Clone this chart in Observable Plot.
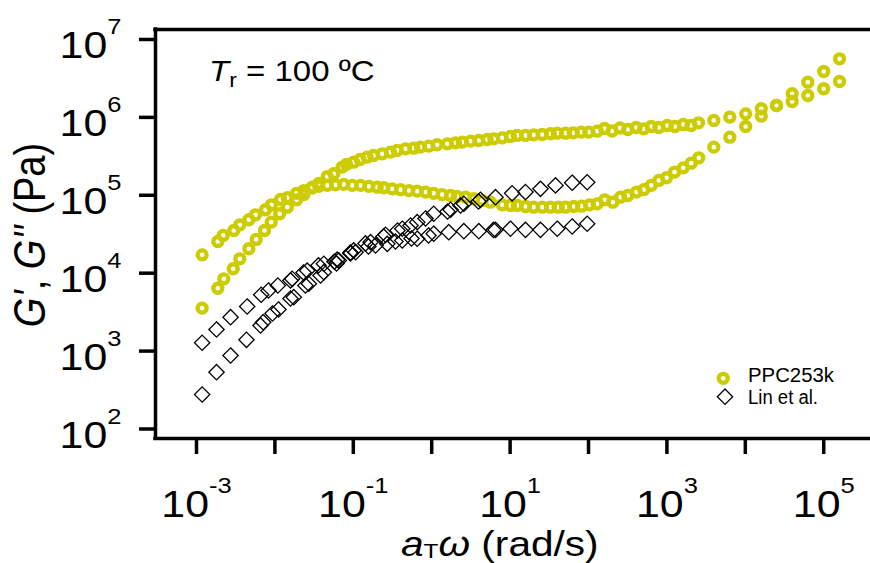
<!DOCTYPE html>
<html><head><meta charset="utf-8">
<script src="https://cdn.jsdelivr.net/npm/d3@7"></script>
<script src="https://cdn.jsdelivr.net/npm/@observablehq/plot@0.6"></script>
<style>
html,body{margin:0;padding:0;background:#fff;}
#chart{width:870px;height:563px;overflow:hidden;}
</style></head><body><div id="chart"></div>
<script>
// ---- axes ----
const xTicks = [1e-3, 1e-2, 1e-1, 1e0, 1e1, 1e2, 1e3, 1e4, 1e5];
const xTickLabels = [1e-3, 1e-1, 1e1, 1e3, 1e5];
const yTicks = [1e2, 1e3, 1e4, 1e5, 1e6, 1e7];
const xDomain = [3.0e-4, 3.95e5];
const yDomain = [75.5, 1.343e7];

// ---- PPC253k : storage modulus G' ----
const ppcStorageFreq = [1.18e-3,1.87e-3,2.23e-3,2.94e-3,3.57e-3,4.65e-3,5.77e-3,7.37e-3,8.97e-3,1.15e-2,1.44e-2,1.89e-2,2.34e-2,2.99e-2,3.63e-2,4.65e-2,5.64e-2,7.21e-2,8.18e-2,0.101,0.122,0.150,0.181,0.234,0.298,0.363,0.463,0.592,0.719,0.918,1.17,1.58,2.01,2.45,3.13,3.99,5.10,6.19,7.93,10.1,12.3,15.7,20.0,25.7,32.7,39.9,50.9,63.8,80.7,101,129,160,200,252,317,404,504,631,789,1009,1262,1615,2030,2530,3963,6340,1.01e4,1.60e4,2.50e4,3.96e4,6.27e4,1.00e5,1.59e5];
const ppcStorage = [3560,6410,8470,11400,15300,20600,27100,35300,45200,57900,70300,87500,1.02e5,1.27e5,1.42e5,1.74e5,1.89e5,2.30e5,2.49e5,2.66e5,2.88e5,3.08e5,3.24e5,3.41e5,3.58e5,3.76e5,3.95e5,4.02e5,4.15e5,4.27e5,4.45e5,4.58e5,4.72e5,4.81e5,4.95e5,5.05e5,5.20e5,5.31e5,5.47e5,5.69e5,5.86e5,5.86e5,5.98e5,6.03e5,6.16e5,6.27e5,6.27e5,6.34e5,6.46e5,6.46e5,6.65e5,7.20e5,6.69e5,7.31e5,6.99e5,7.42e5,7.14e5,7.64e5,7.42e5,7.87e5,7.64e5,8.11e5,7.87e5,8.52e5,9.13e5,1.01e6,1.11e6,1.29e6,1.42e6,1.60e6,1.91e6,2.33e6,2.89e6];

// ---- PPC253k : loss modulus G'' ----
const ppcLossFreq = [1.18e-3,1.87e-3,2.19e-3,2.99e-3,3.57e-3,4.65e-3,5.66e-3,7.59e-3,9.05e-3,1.18e-2,1.44e-2,1.89e-2,2.34e-2,2.99e-2,3.63e-2,4.65e-2,5.93e-2,7.57e-2,9.68e-2,0.124,0.158,0.202,0.245,0.313,0.400,0.511,0.653,0.834,1.06,1.36,1.74,2.11,2.70,3.44,4.41,5.62,7.93,10.1,12.3,15.7,20.0,25.7,32.7,41.1,50.9,64.9,81.4,103,129,161,204,256,317,409,507,631,789,988,1250,1615,2042,2550,3963,6340,1.01e4,1.60e4,2.50e4,3.96e4,6.27e4,1.00e5,1.59e5];
const ppcLoss = [1.72e4,2.55e4,3.05e4,3.53e4,4.18e4,4.85e4,5.62e4,6.52e4,7.55e4,8.83e4,9.29e4,1.06e5,1.15e5,1.24e5,1.30e5,1.34e5,1.36e5,1.38e5,1.34e5,1.34e5,1.30e5,1.27e5,1.25e5,1.21e5,1.18e5,1.15e5,1.13e5,1.10e5,1.06e5,1.02e5,9.94e4,9.65e4,9.45e4,9.02e4,8.58e4,8.15e4,7.55e4,7.40e4,7.40e4,7.18e4,7.03e4,7.03e4,7.03e4,7.03e4,7.03e4,7.18e4,7.24e4,7.55e4,7.78e4,8.75e4,8.15e4,9.45e4,9.94e4,1.10e5,1.18e5,1.34e5,1.55e5,1.68e5,1.98e5,2.25e5,2.58e5,3.03e5,4.15e5,5.57e5,7.64e5,1.04e6,1.42e6,2.01e6,2.83e6,3.88e6,5.65e6];

// ---- Lin et al. : G' ----
const linStorageFreq = [1.18e-3,1.80e-3,2.72e-3,4.34e-3,6.55e-3,7.09e-3,9.32e-3,1.11e-2,1.58e-2,1.74e-2,2.45e-2,2.71e-2,3.82e-2,4.21e-2,6.11e-2,6.53e-2,9.20e-2,0.107,0.143,0.166,0.243,0.258,0.366,0.421,0.537,0.653,0.834,1.06,1.59,1.74,2.33,2.57,3.95,4.19,6.51,10.6,15.7,24.4,37.9,61.9,96.2];
const linStorage = [277,536,878,1396,2133,2350,3040,3420,4730,4920,6950,7310,9340,10300,13300,14600,17900,18600,24100,25000,29600,31100,35300,37200,40900,45200,50400,57900,61900,65200,74000,77800,83300,87500,94500,1.06e5,1.10e5,1.21e5,1.34e5,1.45e5,1.47e5];

// ---- Lin et al. : G'' ----
const linLossFreq = [1.18e-3,1.80e-3,2.72e-3,4.43e-3,6.69e-3,8.29e-3,1.09e-2,1.58e-2,1.66e-2,2.32e-2,2.58e-2,3.60e-2,4.21e-2,5.75e-2,6.23e-2,9.20e-2,0.101,0.156,0.192,0.271,0.345,0.421,0.552,0.653,0.910,1.06,1.65,2.57,3.99,6.14,6.51,10.1,15.7,24.4,39.9,61.9,96.2];
const linLoss = [1278,1894,2723,3737,5280,6000,6950,8060,8470,10200,10800,12600,13200,14100,14900,18400,19600,22000,22700,23800,25500,26300,27900,27700,30500,32100,33600,34600,34600,35900,36000,37200,36000,36000,37200,39800,43100];

const seriesNames = ["PPC253k", "Lin et al."];
const yellow = "#cccc00";

const ppc = ppcStorageFreq.map((f, i) => ({f, v: ppcStorage[i]}))
  .concat(ppcLossFreq.map((f, i) => ({f, v: ppcLoss[i]})));
const lin = linStorageFreq.map((f, i) => ({f, v: linStorage[i]}))
  .concat(linLossFreq.map((f, i) => ({f, v: linLoss[i]})));

const fmt = d => "10^" + Math.round(Math.log10(d));
const fmtX = d => xTickLabels.some(v => Math.abs(Math.log10(v) - Math.log10(d)) < 1e-6) ? fmt(d) : "";

const svg = Plot.plot({
  width: 870, height: 563,
  marginLeft: 155, marginRight: 0, marginTop: 29, marginBottom: 125,
  style: {fontFamily: "'Liberation Sans', Arial, Helvetica, sans-serif", fontSize: "37px", background: "#fff", color: "#000", overflow: "visible"},
  x: {type: "log", domain: xDomain, ticks: xTicks, tickSize: 16, tickPadding: 36, tickFormat: fmtX, label: null},
  y: {type: "log", domain: yDomain, ticks: yTicks, tickSize: 16, tickPadding: 18, tickFormat: fmt, label: null},
  marks: [
    Plot.ruleY([yDomain[0], yDomain[1]], {stroke: "#000", strokeWidth: 3.5, strokeLinecap: "square"}),
    Plot.ruleX([xDomain[0]], {stroke: "#000", strokeWidth: 3.5, strokeLinecap: "square"}),
    Plot.dot(ppc, {x: "f", y: "v", r: 4.5, stroke: yellow, strokeWidth: 4.3, fill: "none"}),
    Plot.dot(lin, {x: "f", y: "v", r: 6.9, symbol: "diamond2", stroke: "#000", strokeWidth: 1.3, fill: "none"})
  ]
});
document.getElementById("chart").appendChild(svg);

const NS = "http://www.w3.org/2000/svg";
// tick lines thicker
svg.querySelectorAll('[aria-label^="x-axis"] line, [aria-label^="y-axis"] line, [aria-label^="x-axis"] path, [aria-label^="y-axis"] path').forEach(l => {
  l.style.strokeWidth = "3.5px"; l.style.stroke = "#000";
});
// tick labels: 10 with superscript exponent, horizontally widened
svg.querySelectorAll("text").forEach(t => {
  const m = /^10\^(-?\d+)$/.exec(t.textContent);
  if (!m) return;
  const isY = !!t.closest('[aria-label^="y-axis"]');
  t.textContent = "";
  const a = document.createElementNS(NS, "tspan");
  a.textContent = "10";
  if (isY) a.setAttribute("dy", "7");
  const b = document.createElementNS(NS, "tspan");
  b.textContent = m[1];
  b.setAttribute("dy", "-24");
  b.setAttribute("font-size", "22px");
  t.append(a, b);
  t.setAttribute("fill", "#000");
  const ax = parseFloat(t.getAttribute("x")) || 0, ay = parseFloat(t.getAttribute("y")) || 0;
  const tr = t.getAttribute("transform") || "";
  t.setAttribute("transform", `${tr} translate(${ax},${ay}) scale(1.16,1) translate(${-ax},${-ay})`);
});

const root = d3.select(svg);
const font = "'Liberation Sans', Arial, Helvetica, sans-serif";

// x-axis title
const tx = root.append("g").attr("transform", "translate(401,556) scale(1.16,1)")
  .append("text").attr("font-size", 35).attr("font-family", font).attr("text-anchor", "start").attr("fill", "#000");
tx.append("tspan").attr("font-style", "italic").text("a");
tx.append("tspan").attr("font-size", 21).attr("dy", 2).text("T");
tx.append("tspan").attr("font-style", "italic").attr("dy", -2).text("ω");
tx.append("tspan").text(" (rad/s)");

// y-axis title
const ty = root.append("g").attr("transform", "translate(45,235) rotate(-90) scale(1,1.16)")
  .append("text").attr("font-size", 38).attr("font-family", font).attr("text-anchor", "middle").attr("fill", "#000");
ty.append("tspan").attr("font-style", "italic").text("G'");
ty.append("tspan").text(", ");
ty.append("tspan").attr("font-style", "italic").text("G''");
ty.append("tspan").text(" (Pa)");

// annotation
const ta = root.append("g").attr("transform", "translate(209,81) scale(1.1,1)")
  .append("text").attr("font-size", 30).attr("font-family", font).attr("text-anchor", "start").attr("fill", "#000");
ta.append("tspan").attr("font-style", "italic").text("T");
ta.append("tspan").attr("font-size", 21).attr("dy", 6).text("r");
ta.append("tspan").attr("dy", -6).text(" = 100 ºC");

// legend
const lg = root.append("g").attr("text-anchor", "start");
lg.append("circle").attr("cx", 723.3).attr("cy", 378.3).attr("r", 4.5)
  .attr("fill", "none").attr("stroke", yellow).attr("stroke-width", 4.3);
lg.append("path").attr("transform", "translate(725,396.7)")
  .attr("d", d3.symbol(d3.symbolDiamond2, Math.PI * 6.9 * 6.9)())
  .attr("fill", "none").attr("stroke", "#000").attr("stroke-width", 1.3);
lg.append("text").attr("x", 748).attr("y", 382).attr("font-size", 19.5).attr("font-family", font)
  .attr("textLength", 86).attr("lengthAdjust", "spacingAndGlyphs").attr("fill", "#000").text(seriesNames[0]);
lg.append("text").attr("x", 748).attr("y", 404).attr("font-size", 19.5).attr("font-family", font)
  .attr("textLength", 70).attr("lengthAdjust", "spacingAndGlyphs").attr("fill", "#000").text(seriesNames[1]);
</script>
</body></html>
